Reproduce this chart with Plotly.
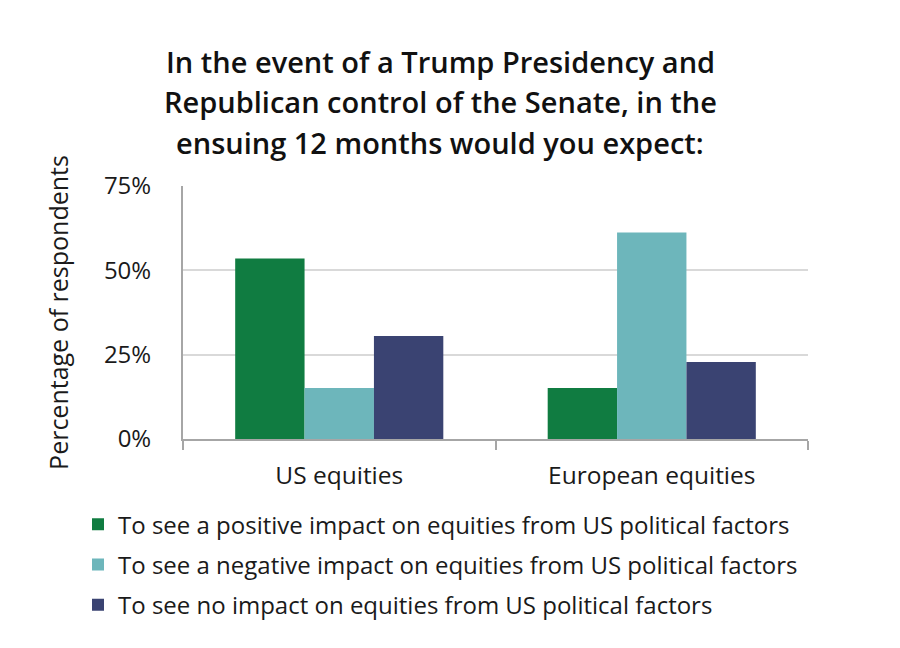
import plotly.graph_objects as go

categories = ["US equities", "European equities"]
series_names = [
    "To see a positive impact on equities from US political factors",
    "To see a negative impact on equities from US political factors",
    "To see no impact on equities from US political factors",
]
positive = [53.5, 15.1]
negative = [15.1, 61.2]
no_impact = [30.5, 22.8]
colors = ["#107C41", "#6DB6BB", "#3A4372"]
title_lines = [
    "In the event of a Trump Presidency and",
    "Republican control of the Senate, in the",
    "ensuing 12 months would you expect:",
]
y_ticks = [0, 25, 50, 75]
y_tick_labels = ["0%", "25%", "50%", "75%"]

FONT = "Open Sans"
TXT = "#1a1a1a"

fig = go.Figure()
for i, (name, vals, col) in enumerate(zip(series_names, [positive, negative, no_impact], colors)):
    fig.add_trace(go.Bar(x=categories, y=vals, name=name, marker_color=col,
                         marker_line_width=0, legendgroup=f"g{i}"))

for i, line in enumerate(title_lines):
    fig.add_annotation(text=line, xref="paper", yref="paper", x=(440 - 183) / 625,
                       y=1 + (186 - (62 + 40 * i)) / 253, xanchor="center", yanchor="middle",
                       showarrow=False,
                       font=dict(family=FONT, size=29, color="#111111", weight=600))

fig.update_layout(
    width=900, height=648,
    margin=dict(l=175, r=100, t=178, b=217),
    paper_bgcolor="white", plot_bgcolor="white",
    barmode="group", bargap=0.334, bargroupgap=0,
    font=dict(family=FONT, color=TXT),
    showlegend=True,
    legend=dict(orientation="v", x=(78 - 183) / 625, xanchor="left", y=-0.25, yanchor="top",
                font=dict(family=FONT, size=24, color=TXT),
                tracegroupgap=6, itemclick=False),
)
fig.update_xaxes(showline=True, linecolor="#A6A6A6", linewidth=2,
                 ticks="outside", tickson="boundaries", ticklen=9, tickcolor="#A6A6A6",
                 tickwidth=2, ticklabelstandoff=14,
                 tickfont=dict(family=FONT, size=24.5, color=TXT),
                 showgrid=False)
fig.update_yaxes(range=[0, 75], tickvals=y_ticks, ticktext=y_tick_labels,
                 showline=True, linecolor="#A6A6A6", linewidth=2,
                 showgrid=True, gridcolor="#D9D9D9", gridwidth=1.5,
                 ticks="", ticklabelstandoff=25,
                 tickfont=dict(family=FONT, size=24, color=TXT),
                 title=dict(text="Percentage of respondents", standoff=28,
                            font=dict(family=FONT, size=25, color=TXT)),
                 zeroline=False)
fig.write_html("out.html")
